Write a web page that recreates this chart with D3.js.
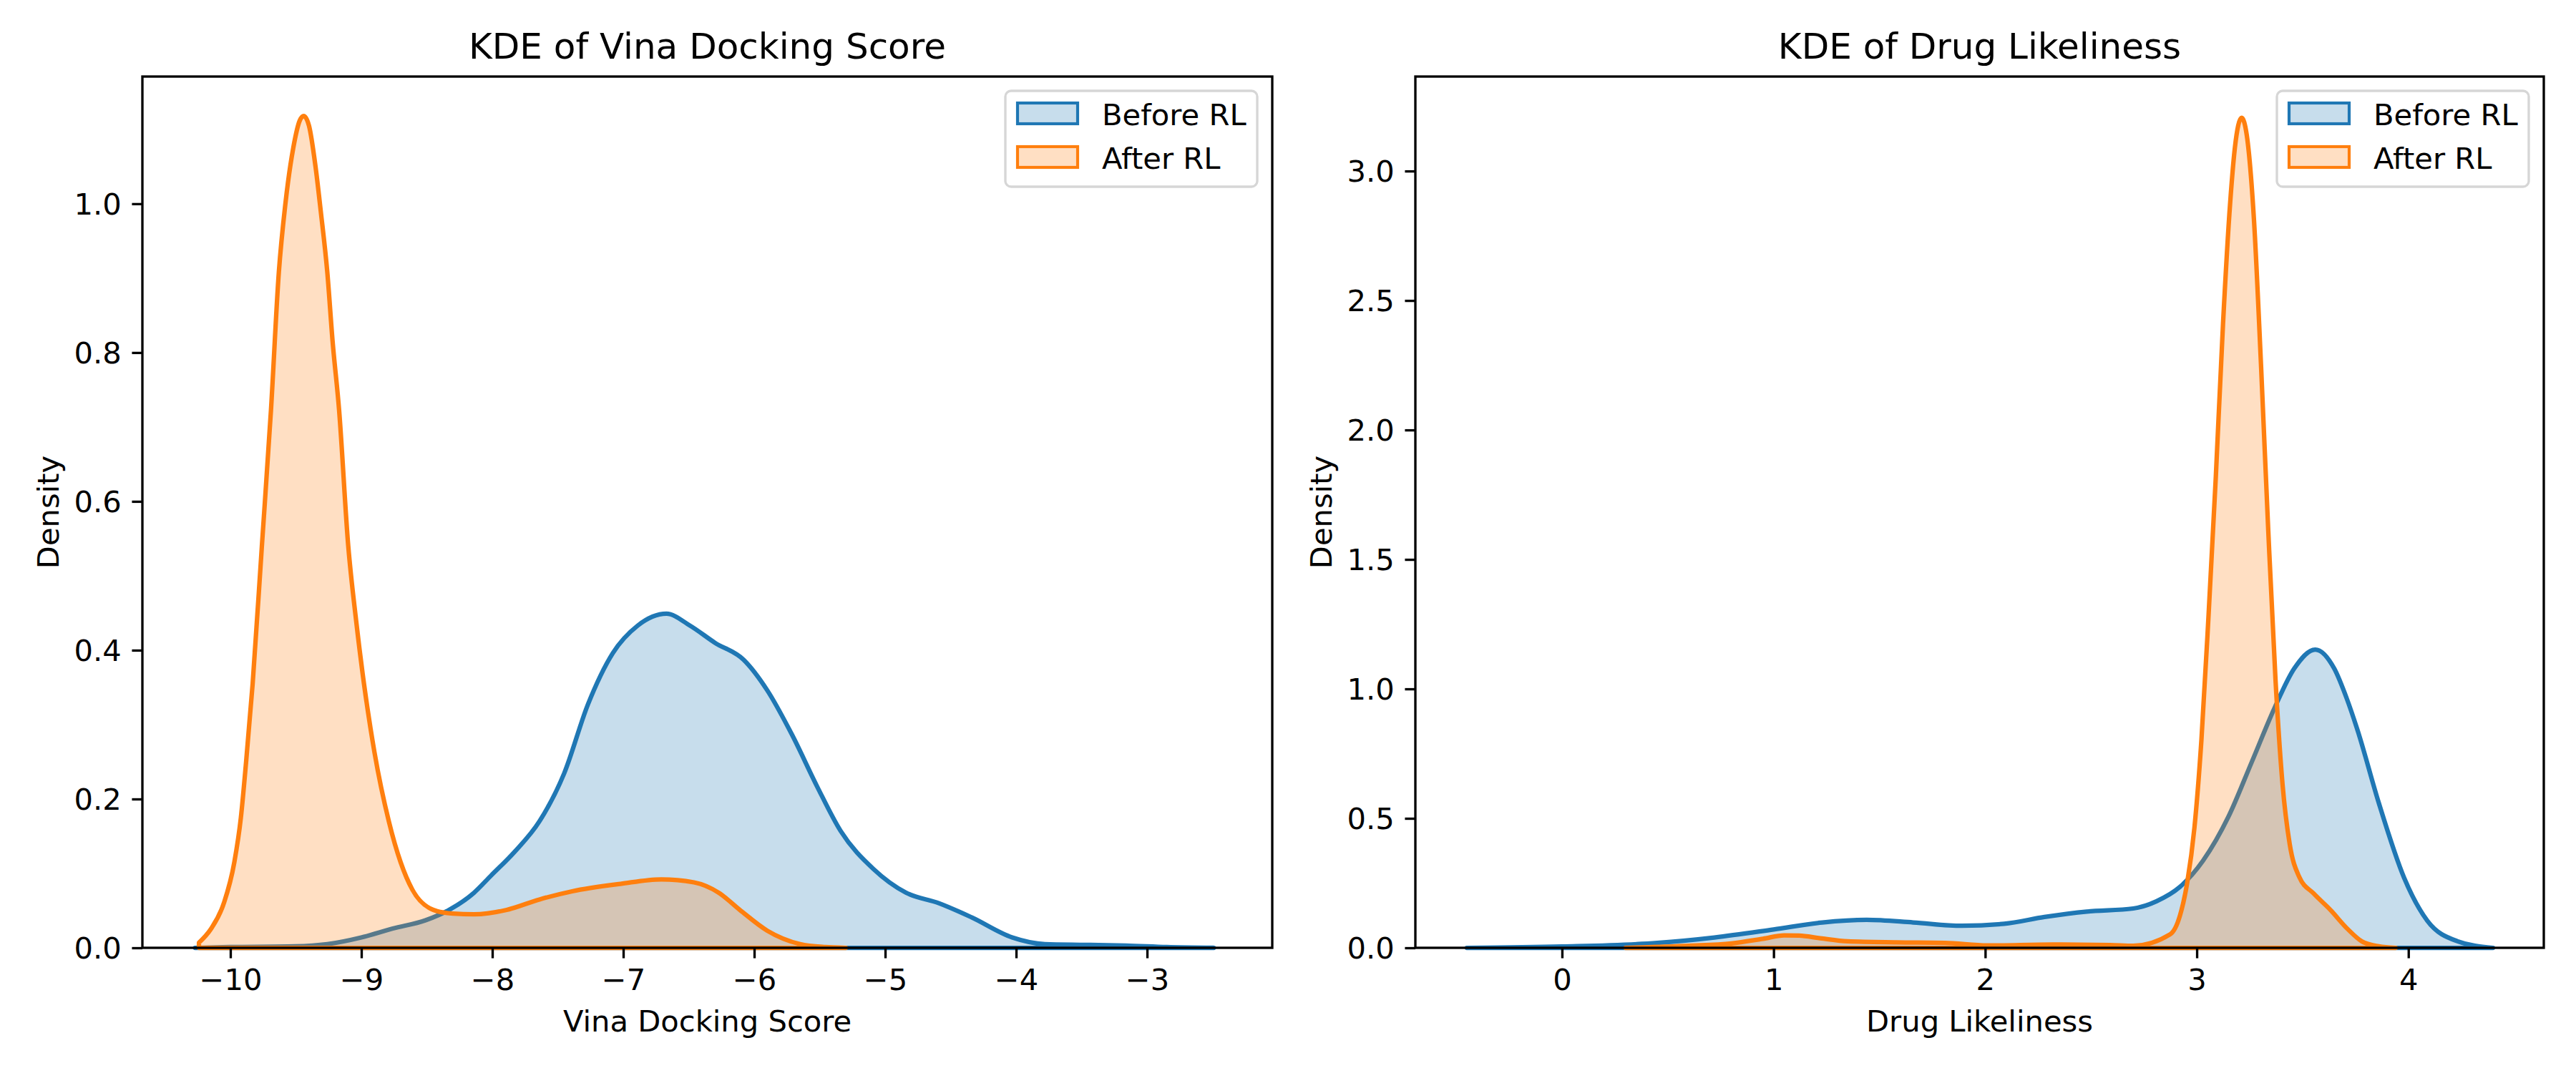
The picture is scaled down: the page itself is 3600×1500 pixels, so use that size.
<!DOCTYPE html>
<html>
<head>
<meta charset="utf-8">
<script src="https://cdn.jsdelivr.net/npm/d3@7"></script>
<style>
  body { margin: 0; background: #fff; }
  svg { display: block; font-family: "DejaVu Sans", sans-serif; }
</style>
</head>
<body>
<div id="chart"></div>
<script>
// values
const seriesNames = ["Before RL", "After RL"];

const vinaBeforeX = [-10.27, -10.0, -9.51, -9.26, -9.0, -8.76, -8.51, -8.33, -8.14, -8.01, -7.83, -7.64, -7.45, -7.27, -7.08, -6.89, -6.67, -6.49, -6.30, -6.08, -5.90, -5.71, -5.52, -5.34, -5.09, -4.84, -4.59, -4.34, -4.03, -3.78, -3.47, -3.16, -2.85, -2.49];
const vinaBeforeY = [0.0, 0.001, 0.002, 0.005, 0.014, 0.026, 0.037, 0.051, 0.074, 0.097, 0.129, 0.17, 0.235, 0.327, 0.396, 0.433, 0.449, 0.433, 0.41, 0.387, 0.346, 0.286, 0.217, 0.157, 0.106, 0.074, 0.06, 0.041, 0.014, 0.005, 0.004, 0.003, 0.001, 0.0];

const vinaAfterX = [-10.24, -10.15, -10.05, -9.97, -9.92, -9.88, -9.83, -9.76, -9.69, -9.63, -9.58, -9.52, -9.47, -9.44, -9.40, -9.35, -9.31, -9.26, -9.22, -9.17, -9.10, -9.04, -8.98, -8.90, -8.79, -8.70, -8.61, -8.45, -8.30, -8.14, -7.89, -7.64, -7.39, -7.02, -6.71, -6.46, -6.27, -6.11, -5.90, -5.65, -5.46, -5.30];
const vinaAfterY = [0.007, 0.025, 0.06, 0.115, 0.175, 0.25, 0.355, 0.539, 0.723, 0.908, 1.0, 1.075, 1.112, 1.118, 1.105, 1.05, 0.99, 0.908, 0.816, 0.723, 0.54, 0.44, 0.355, 0.263, 0.17, 0.115, 0.078, 0.051, 0.046, 0.045, 0.051, 0.065, 0.076, 0.086, 0.092, 0.088, 0.074, 0.051, 0.023, 0.005, 0.001, 0.0];

const drugBeforeX = [-0.45, 0.0, 0.45, 0.72, 1.0, 1.23, 1.44, 1.66, 1.89, 2.09, 2.28, 2.48, 2.70, 2.81, 2.92, 3.03, 3.15, 3.26, 3.37, 3.46, 3.56, 3.65, 3.71, 3.76, 3.86, 3.98, 4.09, 4.23, 4.40];
const drugBeforeY = [0.0, 0.005, 0.019, 0.04, 0.071, 0.098, 0.108, 0.098, 0.085, 0.093, 0.119, 0.14, 0.152, 0.18, 0.235, 0.337, 0.507, 0.718, 0.931, 1.078, 1.152, 1.078, 0.96, 0.84, 0.56, 0.27, 0.104, 0.026, 0.0];

const drugAfterX = [0.3, 0.6, 0.8, 0.95, 1.05, 1.12, 1.22, 1.35, 1.58, 1.81, 2.01, 2.32, 2.59, 2.70, 2.874, 2.921, 2.955, 2.989, 3.022, 3.056, 3.09, 3.124, 3.158, 3.18, 3.212, 3.236, 3.27, 3.304, 3.338, 3.372, 3.405, 3.439, 3.484, 3.552, 3.631, 3.71, 3.78, 3.86, 3.94];
const drugAfterY = [0.0, 0.008, 0.017, 0.035, 0.048, 0.047, 0.037, 0.025, 0.021, 0.019, 0.009, 0.013, 0.011, 0.008, 0.052, 0.126, 0.253, 0.465, 0.804, 1.29, 1.82, 2.41, 2.88, 3.09, 3.206, 3.14, 2.815, 2.243, 1.608, 1.036, 0.634, 0.401, 0.274, 0.21, 0.147, 0.075, 0.025, 0.006, 0.0];

// axis limits and ticks
const vinaXDomain = [-10.672, -2.044];
const vinaYDomain = [0, 1.171];
const vinaXTicks = [-10, -9, -8, -7, -6, -5, -4, -3];
const vinaYTicks = [0.0, 0.2, 0.4, 0.6, 0.8, 1.0];

const drugXDomain = [-0.693, 4.64];
const drugYDomain = [0, 3.365];
const drugXTicks = [0, 1, 2, 3, 4];
const drugYTicks = [0.0, 0.5, 1.0, 1.5, 2.0, 2.5, 3.0];

const colors = ["#1f77b4", "#ff7f0e"];

// 300 dpi: 1pt = 4.1667px
const PT = 300 / 72;
const fontSmall = 10 * PT;
const fontTitle = 12 * PT;

const width = 3600, height = 1500;

const svg = d3.select("#chart")
    .append("svg")
    .attr("width", width)
    .attr("height", height)
    .attr("viewBox", `0 0 ${width} ${height}`);

svg.append("rect").attr("width", width).attr("height", height).attr("fill", "#fff");

function zipPoints(xs, ys) {
    return xs.map((x, i) => [x, ys[i]]);
}

function createPanel(box, {title, xLabel, xDomain, yDomain, xTicks, yTicks, xFormat, series}) {
    const g = svg.append("g");

    const x = d3.scaleLinear().domain(xDomain).range([box.left, box.right]);
    const y = d3.scaleLinear().domain(yDomain).range([box.bottom, box.top]);

    const area = d3.area()
        .x(d => x(d[0]))
        .y0(y(0))
        .y1(d => y(d[1]))
        .curve(d3.curveMonotoneX);

    // fills and outlines, in draw order (Before then After)
    series.forEach((s, i) => {
        g.append("path")
            .datum(s)
            .attr("d", area)
            .attr("fill", colors[i])
            .attr("fill-opacity", 0.25)
            .attr("stroke", colors[i])
            .attr("stroke-width", 1.5 * PT)
            .attr("stroke-linejoin", "round");
    });

    const xAxis = g.append("g")
        .attr("transform", `translate(0,${box.bottom})`)
        .call(d3.axisBottom(x).tickValues(xTicks).tickFormat(xFormat)
            .tickSize(3.5 * PT).tickPadding(3.5 * PT).tickSizeOuter(0));

    const yAxis = g.append("g")
        .attr("transform", `translate(${box.left},0)`)
        .call(d3.axisLeft(y).tickValues(yTicks).tickFormat(d3.format(".1f"))
            .tickSize(3.5 * PT).tickPadding(3.5 * PT).tickSizeOuter(0));

    [xAxis, yAxis].forEach(a => {
        a.select(".domain").remove();
        a.selectAll(".tick line").attr("stroke", "#000").attr("stroke-width", 0.8 * PT);
        a.selectAll(".tick text")
            .attr("fill", "#000")
            .attr("font-size", fontSmall)
            .attr("font-family", "DejaVu Sans");
    });
    yAxis.selectAll(".tick text").attr("dy", "0.34em");

    // spines
    g.append("rect")
        .attr("x", box.left)
        .attr("y", box.top)
        .attr("width", box.right - box.left)
        .attr("height", box.bottom - box.top)
        .attr("fill", "none")
        .attr("stroke", "#000")
        .attr("stroke-width", 0.8 * PT);

    g.append("text")
        .attr("x", (box.left + box.right) / 2)
        .attr("y", box.top - 25)
        .attr("text-anchor", "middle")
        .attr("font-size", fontTitle)
        .text(title);

    g.append("text")
        .attr("x", (box.left + box.right) / 2)
        .attr("y", box.bottom + 117)
        .attr("text-anchor", "middle")
        .attr("font-size", fontSmall)
        .text(xLabel);

    g.append("text")
        .attr("transform", `translate(${box.left - 117},${(box.top + box.bottom) / 2}) rotate(-90)`)
        .attr("text-anchor", "middle")
        .attr("font-size", fontSmall)
        .text("Density");

    // legend, upper right
    const legW = 352, legH = 134;
    const lx = box.right - 21 - legW;
    const ly = box.top + 20;
    const leg = g.append("g").attr("transform", `translate(${lx},${ly})`);

    leg.append("rect")
        .attr("width", legW)
        .attr("height", legH)
        .attr("rx", 8)
        .attr("fill", "#fff")
        .attr("fill-opacity", 0.8)
        .attr("stroke", "#cccccc")
        .attr("stroke-opacity", 0.8)
        .attr("stroke-width", 0.8 * PT);

    seriesNames.forEach((name, i) => {
        const rowY = 17 + i * 61;
        leg.append("rect")
            .attr("x", 17)
            .attr("y", rowY)
            .attr("width", 84)
            .attr("height", 29)
            .attr("fill", colors[i])
            .attr("fill-opacity", 0.25)
            .attr("stroke", colors[i])
            .attr("stroke-width", 1.0 * PT);
        leg.append("text")
            .attr("x", 135)
            .attr("y", 48 + i * 61)
            .attr("font-size", fontSmall)
            .text(name);
    });
}

createPanel({left: 199, right: 1778, top: 107, bottom: 1325}, {
    title: "KDE of Vina Docking Score",
    xLabel: "Vina Docking Score",
    xDomain: vinaXDomain,
    yDomain: vinaYDomain,
    xTicks: vinaXTicks,
    yTicks: vinaYTicks,
    xFormat: d3.format("d"),
    series: [zipPoints(vinaBeforeX, vinaBeforeY), zipPoints(vinaAfterX, vinaAfterY)]
});

createPanel({left: 1978, right: 3555, top: 107, bottom: 1325}, {
    title: "KDE of Drug Likeliness",
    xLabel: "Drug Likeliness",
    xDomain: drugXDomain,
    yDomain: drugYDomain,
    xTicks: drugXTicks,
    yTicks: drugYTicks,
    xFormat: d3.format("d"),
    series: [zipPoints(drugBeforeX, drugBeforeY), zipPoints(drugAfterX, drugAfterY)]
});
</script>
</body>
</html>
